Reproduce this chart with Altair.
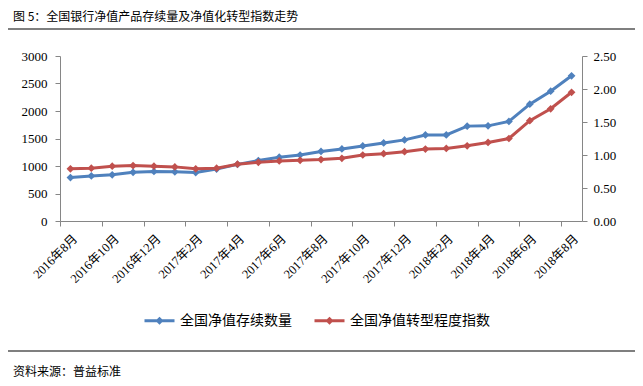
import json
import altair as alt
import pandas as pd

months = ["2016年8月", "2016年9月", "2016年10月", "2016年11月", "2016年12月",
          "2017年1月", "2017年2月", "2017年3月", "2017年4月", "2017年5月", "2017年6月",
          "2017年7月", "2017年8月", "2017年9月", "2017年10月", "2017年11月", "2017年12月",
          "2018年1月", "2018年2月", "2018年3月", "2018年4月", "2018年5月", "2018年6月",
          "2018年7月", "2018年8月"]
stock = [790, 820, 840, 885, 900, 895, 880, 945, 1030, 1100, 1160, 1200, 1265,
         1310, 1365, 1420, 1475, 1565, 1565, 1725, 1730, 1810, 2125, 2360, 2640]
trans_index = [0.79, 0.80, 0.83, 0.84, 0.83, 0.82, 0.79, 0.80, 0.86, 0.89, 0.91, 0.92, 0.93,
               0.95, 1.00, 1.02, 1.05, 1.09, 1.10, 1.14, 1.19, 1.25, 1.52, 1.70, 1.95]
series_names = ["全国净值存续数量", "全国净值转型程度指数"]
series_colors = ["#4F81BD", "#C0504D"]
left_ticks = [0, 500, 1000, 1500, 2000, 2500, 3000]
right_ticks = [0, 0.5, 1.0, 1.5, 2.0, 2.5]
title_text = "图 5：全国银行净值产品存续量及净值化转型指数走势"
source_text = "资料来源：普益标准"

W, H = 522, 165
n = len(months)
half = W / n / 2

df_a = pd.DataFrame({"idx": list(range(n)), "value": stock, "series": series_names[0]})
df_b = pd.DataFrame({"idx": list(range(n)), "value": trans_index, "series": series_names[1]})

CJK = "Noto Sans CJK SC"
SERIF = "Liberation Serif, Noto Sans CJK SC"
AXC = "#868686"

label_expr = json.dumps(months, ensure_ascii=False) + "[datum.value]"

x_enc = alt.X(
    "idx:Q",
    scale=alt.Scale(domain=[-0.5, n - 0.5], nice=False, zero=False),
    axis=alt.Axis(
        values=list(range(0, n, 2)), labelExpr=label_expr, title=None, grid=False,
        tickOffset=-half, labelOffset=half, labelAngle=-45, labelAlign="right",
        labelBaseline="top", labelPadding=6, tickSize=5, labelFont=SERIF,
        labelFontSize=12.5, labelColor="#000", domainColor=AXC, tickColor=AXC,
        labelOverlap=False, labelBound=False,
    ),
)

legend = alt.Legend(
    title=None, orient="none", legendX=83, legendY=248, direction="horizontal",
    symbolType="M-1,0H1M0,-0.13L0.13,0L0,0.13L-0.13,0Z", symbolSize=900,
    symbolStrokeWidth=3, labelFont=CJK, labelFontSize=14, labelColor="#000",
    labelOffset=4, columnPadding=16, padding=0,
)
color_enc = alt.Color("series:N", scale=alt.Scale(domain=series_names, range=series_colors),
                      legend=legend)

pt = alt.OverlayMarkDef(shape="diamond", size=60, filled=True)

left = alt.Chart(df_a).mark_line(strokeWidth=3, point=pt).encode(
    x=x_enc,
    y=alt.Y("value:Q", scale=alt.Scale(domain=[0, 3000], nice=False),
            axis=alt.Axis(orient="left", values=left_ticks, format="d", title=None,
                          grid=False, tickSize=5, labelPadding=8, labelFont=SERIF,
                          labelFontSize=13, labelColor="#000", domainColor=AXC,
                          tickColor=AXC)),
    color=color_enc,
)
right = alt.Chart(df_b).mark_line(strokeWidth=3, point=pt).encode(
    x=x_enc,
    y=alt.Y("value:Q", scale=alt.Scale(domain=[0, 2.5], nice=False),
            axis=alt.Axis(orient="right", values=right_ticks, format=".2f", title=None,
                          grid=False, tickSize=5, labelPadding=6, labelFont=SERIF,
                          labelFontSize=13, labelColor="#000", domainColor=AXC,
                          tickColor=AXC)),
    color=color_enc,
)

one = pd.DataFrame({"a": [0]})
top_rule = alt.Chart(one).mark_rule(color="#000", strokeWidth=1.2).encode(
    x=alt.value(-57), x2=alt.value(580), y=alt.value(-27))
bot_rule = alt.Chart(one).mark_rule(color="#000", strokeWidth=1.2).encode(
    x=alt.value(-57), x2=alt.value(580), y=alt.value(295))
title = alt.Chart(pd.DataFrame({"t": [title_text]})).mark_text(
    font=CJK, fontSize=12, align="left", baseline="middle", color="#000").encode(
    text="t:N", x=alt.value(-47), y=alt.value(-39))
source = alt.Chart(pd.DataFrame({"t": [source_text]})).mark_text(
    font=CJK, fontSize=12, align="left", baseline="middle", color="#000").encode(
    text="t:N", x=alt.value(-47), y=alt.value(316))

chart = alt.layer(left, right, top_rule, bot_rule, title, source).resolve_scale(
    y="independent"
).properties(
    width=W, height=H,
    padding={"left": 52, "top": 48, "right": 53, "bottom": 157},
    autosize=alt.AutoSizeParams(type="none"),
).configure_view(stroke=None)

chart.save("out.html", embed_options={"renderer": "svg", "actions": False})
